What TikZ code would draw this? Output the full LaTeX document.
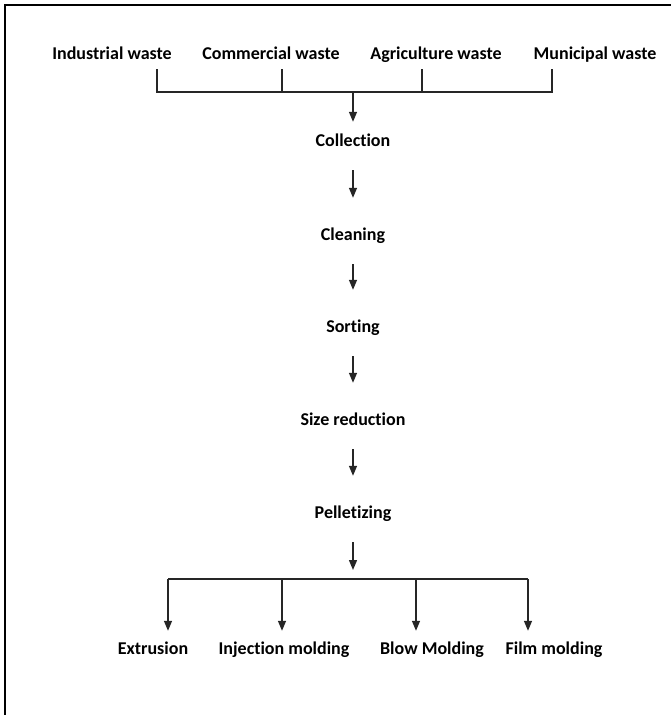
\documentclass[tikz,border=0pt]{standalone}
\usepackage{fontspec}
\setmainfont{Carlito}[Ligatures=NoCommon]
\usetikzlibrary{arrows.meta}
\begin{document}
\begin{tikzpicture}[x=1pt,y=-1pt,
  lbl/.style={font=\fontsize{18}{20}\selectfont\bfseries, inner sep=0pt, text height=15pt, text depth=2pt, anchor=center},
  conn/.style={line width=1.4pt, draw=black!85},
  arr/.style={conn, -{Triangle[width=8pt,length=10pt]}},
  frame/.style={line width=2pt, draw=black}]
\useasboundingbox (0,0) rectangle (671,715);
\draw[frame] (5,715) -- (5,5) -- (671,5);
% sources
\node[lbl] (ind) at (112,53) {Industrial waste};
\node[lbl] (com) at (271,53) {Commercial waste};
\node[lbl] (agr) at (436,53) {Agriculture waste};
\node[lbl] (mun) at (595,53) {Municipal waste};
% steps
\node[lbl] (col) at (353,140) {Collection};
\node[lbl] (cle) at (353,234) {Cleaning};
\node[lbl] (sor) at (353,326) {Sorting};
\node[lbl] (siz) at (353,419) {Size reduction};
\node[lbl] (pel) at (353,512) {Pelletizing};
% products
\node[lbl] (ext) at (153,648) {Extrusion};
\node[lbl] (inj) at (284,648) {Injection molding};
\node[lbl] (blo) at (432,648) {Blow Molding};
\node[lbl] (fil) at (554,648) {Film molding};
% top bracket
\coordinate (t1) at (157,69);
\coordinate (t2) at (282,69);
\coordinate (t3) at (422,69);
\coordinate (t4) at (552,69);
\coordinate (merge) at (353,92);
\draw[conn] (t1) -- (t1|-merge) -- (t4|-merge) -- (t4);
\draw[conn] (t2) -- (t2|-merge);
\draw[conn] (t3) -- (t3|-merge);
\draw[arr, shorten >=9.5pt] (merge) -- (col.north);
% chain
\draw[arr, shorten <=21.5pt, shorten >=27.5pt] (col.south) -- (cle.north);
\draw[arr, shorten <=21.5pt, shorten >=27.5pt] (cle.south) -- (sor.north);
\draw[arr, shorten <=21.5pt, shorten >=27.5pt] (sor.south) -- (siz.north);
\draw[arr, shorten <=21.5pt, shorten >=27.5pt] (siz.south) -- (pel.north);
% split
\coordinate (split) at (353,579);
\draw[arr, shorten <=21.5pt, shorten >=9pt] (pel.south) -- (split);
\coordinate (d1) at (168,579);
\coordinate (d2) at (282,579);
\coordinate (d3) at (416,579);
\coordinate (d4) at (528,579);
\draw[conn] (d1) -- (d4);
\draw[arr, shorten >=8.5pt] (d1) -- (d1|-ext.north);
\draw[arr, shorten >=8.5pt] (d2) -- (d2|-inj.north);
\draw[arr, shorten >=8.5pt] (d3) -- (d3|-blo.north);
\draw[arr, shorten >=8.5pt] (d4) -- (d4|-fil.north);
\end{tikzpicture}
\end{document}
